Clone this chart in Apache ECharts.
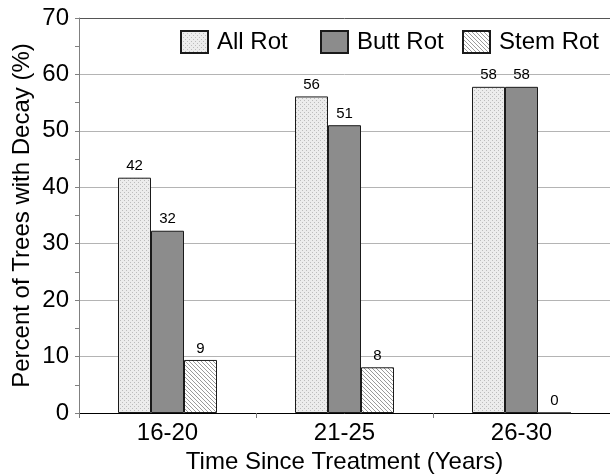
<!DOCTYPE html>
<html>
<head>
<meta charset="utf-8">
<script src="https://cdn.jsdelivr.net/npm/echarts@6/dist/echarts.min.js"></script>
<style>
html, body { margin: 0; padding: 0; background: #fff; }
#chart { width: 610px; height: 474px; }
</style>
</head>
<body>
<div id="chart"></div>
<script>
// categories and values
var categories = ['16-20', '21-25', '26-30'];
var allRot = [41.7, 56.1, 57.8];
var buttRot = [32.3, 51.0, 57.8];
var stemRot = [9.4, 8.1, 0];
var yTicks = [0, 10, 20, 30, 40, 50, 60, 70];
var seriesNames = ['All Rot', 'Butt Rot', 'Stem Rot'];

// little canvas tiles for the fills
var makePattern = function(kind) {
	var c = document.createElement('canvas');
	c.width = 4;
	c.height = 4;
	var ctx = c.getContext('2d');
	ctx.fillStyle = kind == 'dots' ? '#ececec' : '#ffffff';
	ctx.fillRect(0, 0, 4, 4);
	if (kind == 'dots') {
		ctx.fillStyle = '#bcbcbc';
		ctx.fillRect(0, 0, 1, 1);
		ctx.fillRect(2, 2, 1, 1);
	} else {
		ctx.fillStyle = '#9a9a9a';
		for (var i = 0; i < 4; i++) {
			ctx.fillRect(i, i, 1, 1);
		}
	}
	return { image: c, repeat: 'repeat' };
};

var font = 'Liberation Sans, Arial, sans-serif';

var barLabel = {
	show: true,
	position: 'top',
	distance: 4,
	color: '#000',
	fontFamily: font,
	fontSize: 15,
	formatter: function(p) { return Math.round(p.value); }
};

var makeSeries = function(name, data, fill) {
	return {
		name: name,
		type: 'bar',
		data: data,
		barWidth: 33,
		barGap: '0%',
		itemStyle: { color: fill, borderColor: '#1a1a1a', borderWidth: 1 },
		label: barLabel
	};
};

// one legend per item so the boxes sit where the picture has them
var legendLeft = [175, 315, 457];
var legends = [];
for (var i = 0; i < seriesNames.length; i++) {
	legends.push({
		top: 25,
		left: legendLeft[i],
		icon: 'rect',
		itemWidth: 27,
		itemHeight: 22,
		textStyle: { fontSize: 24, color: '#000', fontFamily: font, padding: [0, 0, 0, 4] },
		data: [seriesNames[i]]
	});
}

var myChart = echarts.init(document.getElementById('chart'), null, { renderer: 'canvas' });

var option = {
	animation: false,
	textStyle: { fontFamily: font },
	grid: { left: 79, right: 0, top: 18, bottom: 61, outerBoundsMode: 'none' },
	legend: legends,
	xAxis: {
		type: 'category',
		data: categories,
		name: 'Time Since Treatment (Years)',
		nameLocation: 'middle',
		nameGap: 35,
		nameTextStyle: { fontSize: 24, color: '#000', fontFamily: font },
		axisLine: { lineStyle: { color: '#000', width: 1 } },
		axisTick: { show: true, length: 5, lineStyle: { color: '#777' } },
		axisLabel: { fontSize: 24, color: '#000', margin: 8, fontFamily: font }
	},
	yAxis: {
		type: 'value',
		min: yTicks[0],
		max: yTicks[yTicks.length - 1],
		interval: 10,
		name: 'Percent of Trees with Decay (%)',
		nameLocation: 'middle',
		nameGap: 45,
		nameMoveOverlap: false,
		nameTextStyle: { fontSize: 24, color: '#000', fontFamily: font },
		axisLine: { show: true, lineStyle: { color: '#808080' } },
		axisTick: { show: true, length: 4, lineStyle: { color: '#808080' } },
		minorTick: { show: true, splitNumber: 2, length: 4, lineStyle: { color: '#808080' } },
		axisLabel: { fontSize: 24, color: '#000', margin: 10, fontFamily: font },
		splitLine: {
			show: true,
			lineStyle: {
				color: ['#b4b4b4', '#b4b4b4', '#b4b4b4', '#b4b4b4', '#b4b4b4', '#b4b4b4', '#b4b4b4', '#555555']
			}
		}
	},
	series: [
		makeSeries(seriesNames[0], allRot, makePattern('dots')),
		makeSeries(seriesNames[1], buttRot, '#8c8c8c'),
		makeSeries(seriesNames[2], stemRot, makePattern('hatch'))
	]
};

myChart.setOption(option);
</script>
</body>
</html>
